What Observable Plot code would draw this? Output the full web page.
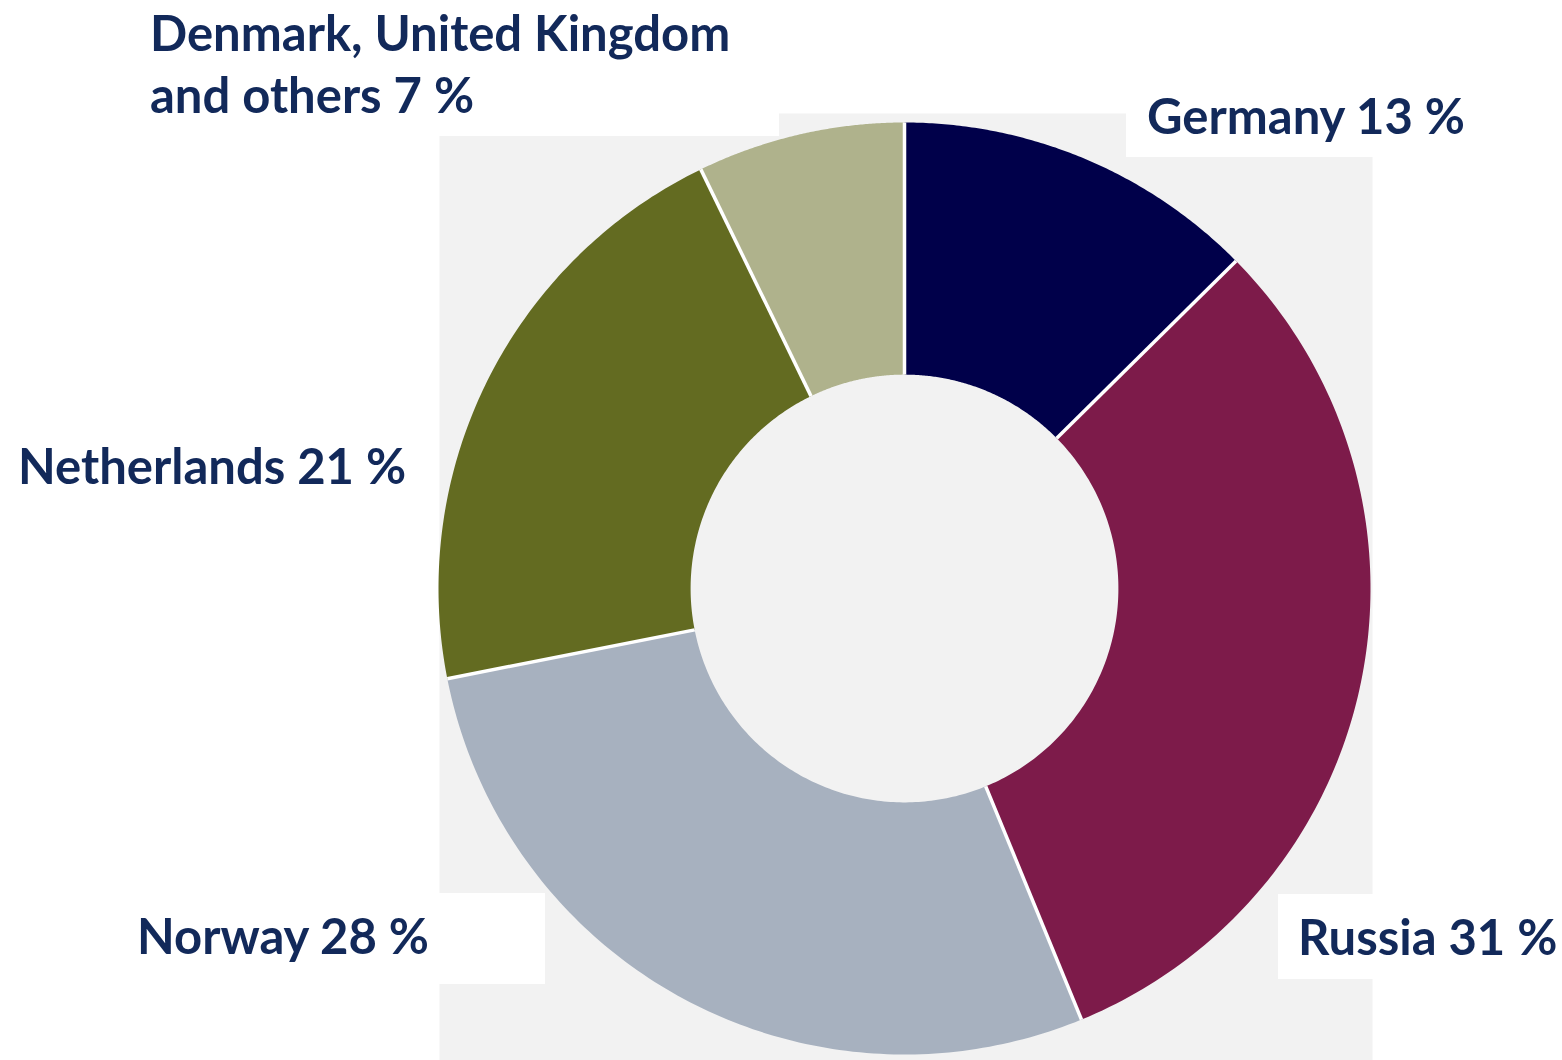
<!DOCTYPE html>
<html>
<head>
<meta charset="utf-8">
<script src="https://cdn.jsdelivr.net/npm/d3@7"></script>
<script src="https://cdn.jsdelivr.net/npm/@observablehq/plot@0.6"></script>
<style>
  html, body { margin: 0; padding: 0; background: #ffffff; overflow: hidden; }
  #wrap { position: relative; width: 1562px; height: 1060px; }
  #wrap svg { position: absolute; left: 0; top: 0; background: transparent; }
  .lbl {
    position: absolute; background: #ffffff; box-sizing: border-box;
    font-family: Lato, "Open Sans", sans-serif; font-weight: 700; font-size: 49px;
    line-height: 62px; color: #12295a; white-space: pre;
  }
</style>
</head>
<body>
<div id="wrap"></div>
<script>
// ---- data (slice sizes; labels as printed) ----
const countries = ["Germany", "Russia", "Norway", "Netherlands", "Denmark, United Kingdom and others"];
const shares = [12.6, 31.2, 28.1, 20.9, 7.2];
const colors = ["#00004a", "#7d1b4a", "#a7b1bf", "#636b21", "#afb28c"];
const labels = ["Germany 13 %", "Russia 31 %", "Norway 28 %", "Netherlands 21 %", "Denmark, United Kingdom\nand others 7 %"];

// ---- layout (pixels) ----
const W = 1562, H = 1060;
const cx = 904, cy = 588, R = 466, innerFrac = 0.459;
const plotLeft = 439, plotRight = 1372, plotTop = 113, plotBottom = 1060;

const table = countries.map((c, i) => ({name: c, share: shares[i]}));
const arcs = d3.pie().sort(null).value(d => d.share).startAngle(0).endAngle(2 * Math.PI)(table);

// slice outlines in unit-radius coordinates (angle clockwise from top)
const N = 120;
const pts = [];
for (const a of arcs) {
  for (let i = 0; i <= N; i++) {
    const t = a.startAngle + (a.endAngle - a.startAngle) * i / N;
    pts.push({name: a.data.name, x: Math.sin(t), y: Math.cos(t)});
  }
  for (let i = N; i >= 0; i--) {
    const t = a.startAngle + (a.endAngle - a.startAngle) * i / N;
    pts.push({name: a.data.name, x: innerFrac * Math.sin(t), y: innerFrac * Math.cos(t)});
  }
}
const seps = arcs.map(a => ({
  x1: innerFrac * Math.sin(a.startAngle), y1: innerFrac * Math.cos(a.startAngle),
  x2: Math.sin(a.startAngle), y2: Math.cos(a.startAngle)
}));

const chart = Plot.plot({
  width: W, height: H,
  marginLeft: plotLeft, marginRight: W - plotRight, marginTop: plotTop, marginBottom: H - plotBottom,
  x: {domain: [(plotLeft - cx) / R, (plotRight - cx) / R], axis: null},
  y: {domain: [(cy - plotBottom) / R, (cy - plotTop) / R], axis: null},
  color: {domain: countries, range: colors},
  style: {background: "transparent"},
  marks: [
    Plot.frame({fill: "#f2f2f2", stroke: "none"}),
    Plot.line(pts, {x: "x", y: "y", z: "name", fill: "name", stroke: "none", curve: "linear-closed"}),
    Plot.link(seps, {x1: "x1", y1: "y1", x2: "x2", y2: "y2", stroke: "#ffffff", strokeWidth: 3.5})
  ]
});
const wrap = document.getElementById("wrap");
wrap.appendChild(chart);

// ---- labels with white boxes ----
const boxes = [
  {left: 1126, top: 83, width: 360, height: 74, padL: 21, padT: 1},   // Germany
  {left: 1278, top: 894, width: 284, height: 85, padL: 20, padT: 11}, // Russia
  {left: 118, top: 893, width: 427, height: 91, padL: 19, padT: 11},  // Norway
  {left: 0, top: 425, width: 430, height: 80, padL: 18, padT: 9},     // Netherlands
  {left: 0, top: 0, width: 779, height: 136, padL: 150, padT: 1}      // Denmark...
];
labels.forEach((t, i) => {
  const b = boxes[i];
  const d = document.createElement("div");
  d.className = "lbl";
  d.style.left = b.left + "px"; d.style.top = b.top + "px";
  d.style.width = b.width + "px"; d.style.height = b.height + "px";
  d.style.paddingLeft = b.padL + "px"; d.style.paddingTop = b.padT + "px";
  d.textContent = t;
  wrap.appendChild(d);
});
</script>
</body>
</html>
